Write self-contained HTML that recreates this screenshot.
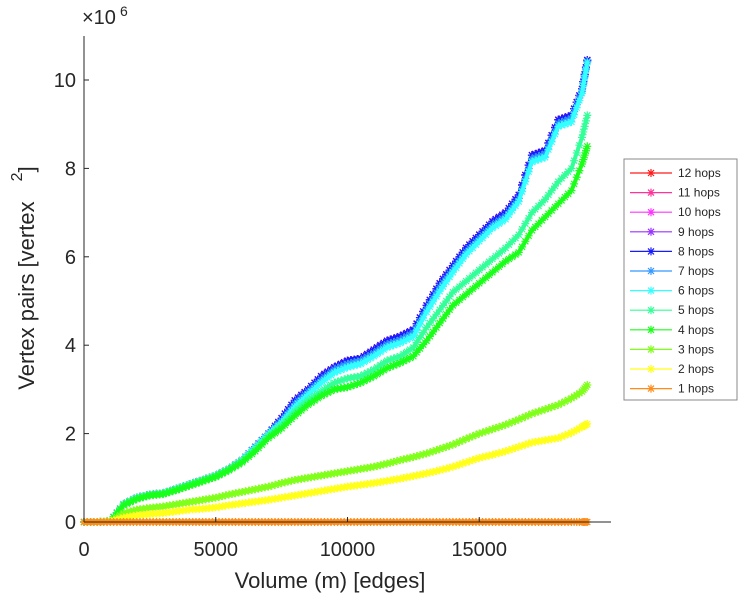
<!DOCTYPE html>
<html><head><meta charset="utf-8"><style>
body{margin:0;background:#fff}
svg text{font-family:"Liberation Sans",sans-serif;fill:#262626}
</style></head><body>
<svg id="chart" width="743" height="600" xmlns="http://www.w3.org/2000/svg">
<g id="plot"></g>
<g id="axes">
<line x1="84" y1="36" x2="84" y2="522" stroke="#262626" stroke-width="1"/>
<line x1="84" y1="522" x2="611" y2="522" stroke="#262626" stroke-width="1"/>
<text x="82" y="24" font-size="20">×10<tspan font-size="14" dx="4" dy="-8">6</tspan></text>
<text transform="translate(34,278) rotate(-90)" text-anchor="middle" font-size="22">Vertex pairs [vertex <tspan dx="14" dy="-12" font-size="16">2</tspan><tspan dy="12">]</tspan></text>
<text x="330" y="588" text-anchor="middle" font-size="22">Volume (m) [edges]</text>
</g>
<g id="legend">
<rect x="624" y="159" width="113" height="241" fill="#fff" stroke="#888" stroke-width="1"/>
</g>
</svg>
<script>
const xs=[0,500,1000,1500,2000,2500,3000,3500,4000,4500,5000,5500,6000,6500,7000,7500,8000,8500,9000,9500,10000,10500,11000,11500,12000,12500,13000,13500,14000,14500,15000,15500,16000,16500,17000,17500,18000,18500,18900,19100];
const hops8=[0,0,0.02,0.4,0.55,0.62,0.65,0.75,0.85,0.95,1.05,1.2,1.4,1.7,2.0,2.35,2.75,3.0,3.3,3.5,3.65,3.7,3.9,4.1,4.2,4.35,4.9,5.4,5.8,6.2,6.5,6.8,7.0,7.4,8.3,8.4,9.1,9.2,9.8,10.45];
const hops7=[0,0,0.02,0.4,0.55,0.62,0.65,0.75,0.85,0.95,1.05,1.2,1.4,1.7,2.0,2.3,2.68,2.95,3.22,3.45,3.58,3.65,3.82,4.02,4.12,4.28,4.82,5.32,5.72,6.12,6.42,6.72,6.92,7.32,8.22,8.33,9.02,9.13,9.75,10.42];
const hops6=[0,0,0.02,0.4,0.55,0.62,0.65,0.75,0.85,0.95,1.05,1.2,1.4,1.68,1.98,2.25,2.6,2.88,3.15,3.38,3.5,3.58,3.75,3.95,4.05,4.2,4.75,5.22,5.65,6.05,6.35,6.65,6.85,7.25,8.15,8.25,8.95,9.05,9.7,10.4];
const hops5=[0,0,0.02,0.4,0.55,0.62,0.65,0.75,0.85,0.95,1.05,1.2,1.38,1.65,1.95,2.2,2.5,2.75,2.95,3.15,3.25,3.3,3.45,3.65,3.75,3.95,4.4,4.8,5.2,5.45,5.7,5.95,6.2,6.5,7.0,7.3,7.7,8.0,8.7,9.2];
const hops4=[0,0,0.02,0.38,0.52,0.6,0.63,0.72,0.82,0.92,1.02,1.17,1.35,1.6,1.9,2.12,2.4,2.65,2.85,3.0,3.05,3.15,3.3,3.48,3.6,3.75,4.1,4.5,4.9,5.15,5.4,5.65,5.9,6.1,6.6,6.9,7.2,7.5,8.1,8.5];
const hops3=[0,0,0.02,0.2,0.28,0.32,0.35,0.4,0.45,0.5,0.55,0.62,0.68,0.74,0.8,0.88,0.95,1.0,1.05,1.1,1.15,1.2,1.25,1.32,1.4,1.47,1.55,1.65,1.75,1.88,2.0,2.1,2.2,2.32,2.45,2.55,2.65,2.8,2.95,3.1];
const hops2=[0,0,0.01,0.1,0.15,0.18,0.2,0.24,0.28,0.3,0.33,0.38,0.42,0.46,0.5,0.55,0.6,0.65,0.7,0.75,0.8,0.84,0.88,0.93,0.98,1.04,1.1,1.17,1.25,1.35,1.45,1.52,1.6,1.7,1.8,1.85,1.9,2.02,2.15,2.22];
const hops1=[0,0,0,0,0,0,0,0,0,0,0,0,0,0,0,0,0,0,0,0,0,0,0,0,0,0,0,0,0,0,0,0,0,0,0,0,0,0,0,0];
const seriesNames=["12 hops","11 hops","10 hops","9 hops","8 hops","7 hops","6 hops","5 hops","4 hops","3 hops","2 hops","1 hops"];
const seriesValues=[hops8,hops8,hops8,hops8,hops8,hops7,hops6,hops5,hops4,hops3,hops2,hops1];
const colors=["#ff1a1a","#ff3399","#ff33ff","#9933ff","#1a1aff","#3399ff","#33ffff","#33ff99","#1aff1a","#80ff1a","#ffff1a","#ff8c1a"];
const xTicks=[0,5000,10000,15000];
const yTicks=[0,2,4,6,8,10];
const NS="http://www.w3.org/2000/svg";
function sx(v){return 84+v*(527/20000);}
function sy(v){return 522-v*44.2;}
function mk(t,a){const e=document.createElementNS(NS,t);for(const k in a)e.setAttribute(k,a[k]);return e;}
function star(g,x,y,c){
  const p=mk('path',{d:`M${x-4},${y}H${x+4}M${x},${y-4}V${y+4}M${x-3},${y-3}L${x+3},${y+3}M${x-3},${y+3}L${x+3},${y-3}`,stroke:c,'stroke-width':1.2,fill:'none'});
  
  
  g.appendChild(p);
}
const plot=document.getElementById('plot');
seriesValues.forEach((vals,i)=>{
  const g=mk('g',{});
  
  
  const pts=vals.map((v,j)=>sx(xs[j])+','+sy(v)).join(' ');
  const pl=mk('polyline',{points:pts,fill:'none',stroke:colors[i],'stroke-width':4,'stroke-linejoin':'round'});
  
  
  g.appendChild(pl);
  for(let j=0;j<vals.length-1;j++){
    for(let k=0;k<4;k++){
      const f=k/4;
      star(g,sx(xs[j]+(xs[j+1]-xs[j])*f),sy(vals[j]+(vals[j+1]-vals[j])*f),colors[i]);
    }
  }
  star(g,sx(xs[xs.length-1]),sy(vals[vals.length-1]),colors[i]);
  plot.appendChild(g);
});
const axes=document.getElementById('axes');
xTicks.forEach(t=>{
  const l=mk('line',{x1:sx(t),x2:sx(t),y1:522,y2:517,stroke:'#262626'});
  
  
  axes.appendChild(l);
  const tx=mk('text',{x:sx(t),y:556,'text-anchor':'middle','font-size':20});
  
  
  tx.textContent=t;axes.appendChild(tx);
});
yTicks.forEach(t=>{
  const l=mk('line',{x1:84,x2:89,y1:sy(t),y2:sy(t),stroke:'#262626'});
  
  
  axes.appendChild(l);
  const tx=mk('text',{x:76,y:sy(t)+7,'text-anchor':'end','font-size':20});
  
  
  tx.textContent=t;axes.appendChild(tx);
});
const leg=document.getElementById('legend');
seriesNames.forEach((n,i)=>{
  const y=173+i*19.6;
  const g=mk('g',{});
  
  
  g.appendChild(mk('line',{x1:630,x2:672,y1:y,y2:y,stroke:colors[i],'stroke-width':1.2}));
  star(g,651,y,colors[i]);
  const t=mk('text',{x:678,y:y+4,'font-size':12});
  t.textContent=n;g.appendChild(t);
  leg.appendChild(g);
});
</script>
</body></html>
